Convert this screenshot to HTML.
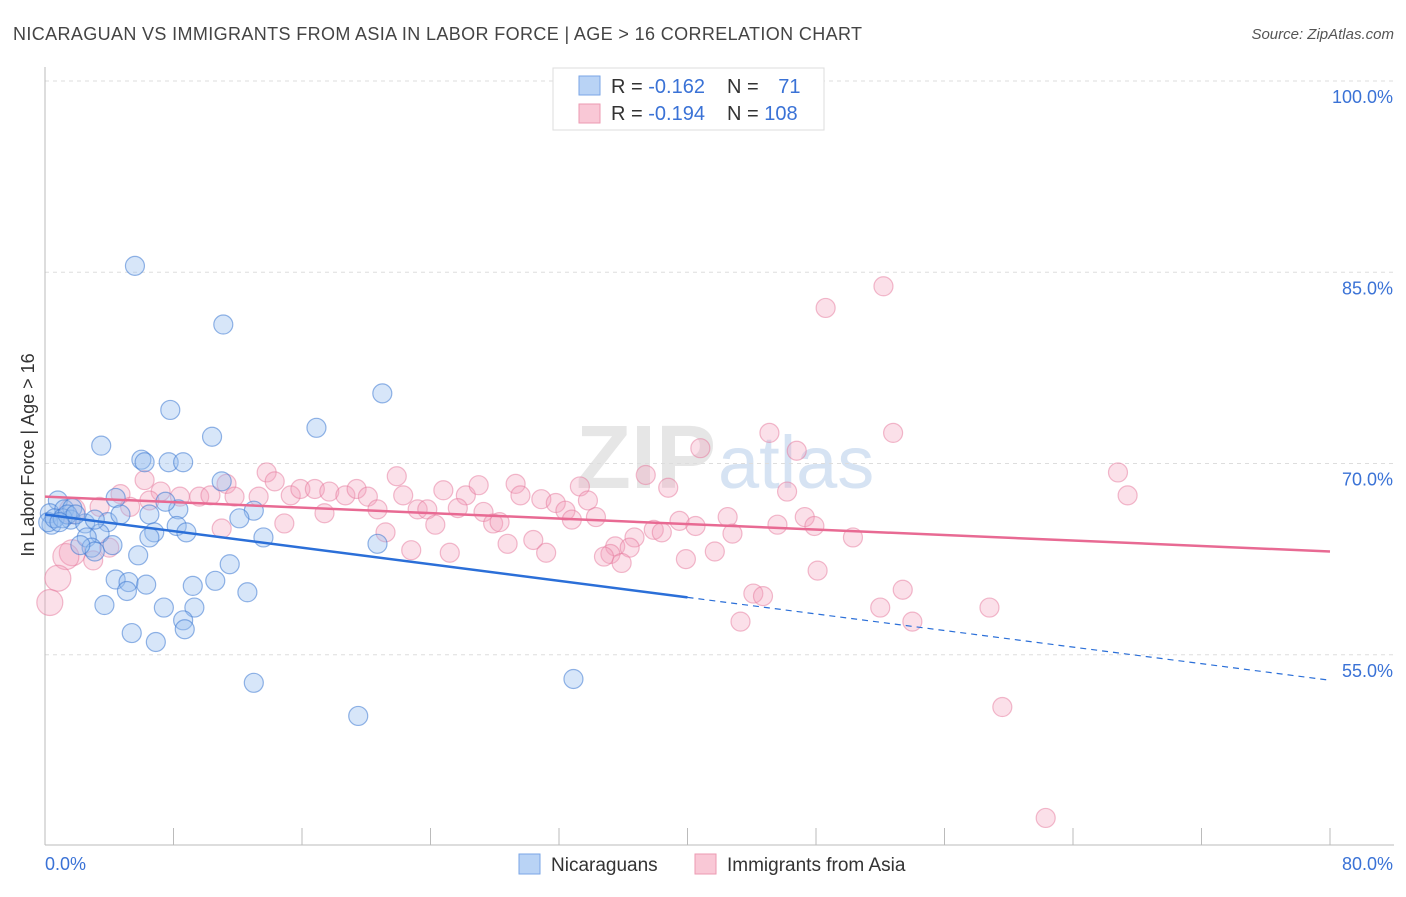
<!DOCTYPE html>
<html><head><meta charset="utf-8"><style>
body{margin:0;background:#fff;font-family:"Liberation Sans",sans-serif;}
svg text{font-family:"Liberation Sans",sans-serif;}
</style></head><body>
<svg id="chart" width="1406" height="892">
<text x="13" y="40" font-size="18" fill="#444" textLength="849" lengthAdjust="spacing">NICARAGUAN VS IMMIGRANTS FROM ASIA IN LABOR FORCE | AGE &gt; 16 CORRELATION CHART</text>
<text x="1394" y="39" font-size="15" fill="#555" font-style="italic" text-anchor="end">Source: ZipAtlas.com</text>
<text x="716" y="488" font-size="90" fill="#e6e6e6" text-anchor="end" font-family="Liberation Serif" font-weight="bold">ZIP</text>
<text x="718" y="488" font-size="74" fill="#d6e3f3">atlas</text>
<g id="grid"></g><g id="axes"></g><g id="pts"></g><g id="lines"></g>
<text transform="translate(34,455) rotate(-90)" font-size="18" fill="#333" text-anchor="middle">In Labor Force | Age &gt; 16</text>
<g>
<rect x="553" y="68" width="271" height="62" fill="#fff" stroke="#ddd"/>
<rect x="579" y="76" width="21" height="19" fill="#b9d3f5" stroke="#7aa6e6"/>
<rect x="579" y="104" width="21" height="19" fill="#f9c8d6" stroke="#ec9ab2"/>
<text x="611" y="93" font-size="20" fill="#333">R = <tspan fill="#3a72d6">-0.162</tspan></text>
<text x="727" y="93" font-size="20" fill="#333">N = <tspan fill="#3a72d6" dx="14">71</tspan></text>
<text x="611" y="120" font-size="20" fill="#333">R = <tspan fill="#3a72d6">-0.194</tspan></text>
<text x="727" y="120" font-size="20" fill="#333">N = <tspan fill="#3a72d6">108</tspan></text>
</g>
<g>
<rect x="519" y="854" width="21" height="20" fill="#b9d3f5" stroke="#7aa6e6"/>
<text x="551" y="871" font-size="19" fill="#333">Nicaraguans</text>
<rect x="695" y="854" width="21" height="20" fill="#f9c8d6" stroke="#ec9ab2"/>
<text x="727" y="871" font-size="19" fill="#333">Immigrants from Asia</text>
</g>
</svg>
<script>
const blueX=[5.6,11.1,7.8,21.0,16.9,10.4,3.5,6.0,6.2,7.7,8.6,11.0,0.8,4.4,0.3,1.2,1.7,0.4,1.6,2.5,3.9,4.7,6.5,8.3,7.5,13.0,12.1,8.2,6.8,8.8,6.5,3.4,2.6,4.2,2.9,3.1,13.6,2.2,5.8,20.7,11.5,4.4,5.2,6.3,5.1,9.2,10.6,12.6,3.7,7.4,9.3,8.6,8.7,5.4,6.9,13.0,32.9,19.5,0.2,0.6,1.1,1.4,1.9,3.1,0.9];
const blueY=[85.5,80.9,74.2,75.5,72.8,72.1,71.4,70.3,70.1,70.1,70.1,68.6,67.1,67.3,66.1,66.4,66.5,65.2,65.6,65.3,65.4,66.0,66.0,66.4,67.0,66.3,65.7,65.1,64.6,64.6,64.2,64.5,64.2,63.6,63.4,63.1,64.2,63.6,62.8,63.7,62.1,60.9,60.7,60.5,60.0,60.4,60.8,59.9,58.9,58.7,58.7,57.7,57.0,56.7,56.0,52.8,53.1,50.2,65.4,65.7,65.7,66.0,66.0,65.6,65.4];
const pinkX=[52.2,48.6,52.8,45.1,40.8,46.8,66.8,67.4,13.8,21.9,37.4,33.3,29.3,6.2,14.3,11.3,38.8,46.2,4.7,7.2,8.4,9.6,10.3,11.8,13.3,15.3,15.9,16.8,17.7,18.7,19.4,20.1,22.3,24.8,26.2,27.0,29.6,30.9,31.8,33.8,5.3,6.5,3.4,1.7,17.4,20.7,23.2,23.8,25.7,27.3,32.4,32.8,34.3,42.5,47.3,39.5,45.6,47.9,14.9,24.3,27.9,28.3,11.0,21.2,37.9,40.5,42.8,38.4,36.7,30.4,28.8,50.3,35.5,36.4,35.2,22.8,25.2,31.2,34.8,35.9,41.7,39.9,48.1,1.7,1.3,3.0,4.0,0.8,0.3,44.1,44.7,53.4,52.0,58.8,43.3,54.0,59.6,62.3];
const pinkY=[83.9,82.2,72.4,72.4,71.2,71.0,69.3,67.5,69.3,69.0,69.1,68.2,68.4,68.7,68.6,68.4,68.1,67.8,67.6,67.8,67.4,67.4,67.5,67.4,67.4,67.5,68.0,68.0,67.8,67.5,68.0,67.4,67.5,67.9,67.5,68.3,67.5,67.2,66.9,67.1,66.6,67.1,66.6,66.3,66.1,66.4,66.4,66.4,66.5,66.2,66.3,65.6,65.8,65.8,65.8,65.5,65.2,65.1,65.3,65.2,65.3,65.4,64.9,64.6,64.8,65.1,64.5,64.6,64.2,64.0,63.7,64.2,63.5,63.4,62.9,63.2,63.0,63.0,62.7,62.2,63.1,62.5,61.6,63.0,62.7,62.4,63.4,61.0,59.1,59.8,59.6,60.1,58.7,58.7,57.6,57.6,50.9,42.2];
const yTicks=[100,85,70,55];
const yTickLabels=["100.0%","85.0%","70.0%","55.0%"];
const xTicks=[0,8,16,24,32,40,48,56,64,72,80];
const blueFit=[66.0,53.0];
const pinkFit=[67.4,63.1];
const NS='http://www.w3.org/2000/svg';
const xs=v=>45+v*16.0625;
const ys=v=>81+(100-v)*12.75;
function mk(tag,parent,attrs){const e=document.createElementNS(NS,tag);for(const k in attrs)e.setAttribute(k,attrs[k]);document.getElementById(parent).appendChild(e);return e;}
yTicks.forEach((t,i)=>{
  const l=mk('line','grid',{x1:45,x2:1394,y1:ys(t),y2:ys(t),stroke:'#ddd','stroke-dasharray':'4,4'});
  
  
  const tx=mk('text','grid',{x:1393,y:ys(t)+22,'font-size':18,fill:'#3a72d6','text-anchor':'end'});
  tx.textContent=yTickLabels[i];
  
  
});
const ya=mk('line','axes',{x1:45,x2:45,y1:67,y2:845,stroke:'#bbb'});


const xa=mk('line','axes',{x1:45,x2:1394,y1:845,y2:845,stroke:'#bbb'});


xTicks.forEach(t=>{
  const l=mk('line','axes',{x1:xs(t),x2:xs(t),y1:828,y2:845,stroke:'#bbb'});
  
  
});
const xl0=mk('text','axes',{x:45,y:870,'font-size':18,fill:'#3a72d6'});xl0.textContent='0.0%';


const xl1=mk('text','axes',{x:1393,y:870,'font-size':18,fill:'#3a72d6','text-anchor':'end'});xl1.textContent='80.0%';


pinkX.forEach((x,i)=>{
  const r=x<2?13:9.5;
  const c=mk('circle','pts',{cx:xs(x),cy:ys(pinkY[i]),r:r,fill:'rgba(244,160,186,0.32)',stroke:'rgba(230,120,155,0.5)','stroke-width':1.2});
  
  
});
blueX.forEach((x,i)=>{
  const c=mk('circle','pts',{cx:xs(x),cy:ys(blueY[i]),r:9.5,fill:'rgba(150,190,240,0.38)',stroke:'rgba(60,120,210,0.55)','stroke-width':1.2});
  
  
});
const bm=blueFit[0]+(blueFit[1]-blueFit[0])*0.5;
const b1=mk('line','lines',{x1:xs(0),y1:ys(blueFit[0]),x2:xs(40),y2:ys(bm),stroke:'#2b6fd8','stroke-width':2.5});


const b2=mk('line','lines',{x1:xs(40),y1:ys(bm),x2:xs(80),y2:ys(blueFit[1]),stroke:'#2b6fd8','stroke-width':1.2,'stroke-dasharray':'6,5'});


const p1=mk('line','lines',{x1:xs(0),y1:ys(pinkFit[0]),x2:xs(80),y2:ys(pinkFit[1]),stroke:'#e86a93','stroke-width':2.5});


</script>
</body></html>
